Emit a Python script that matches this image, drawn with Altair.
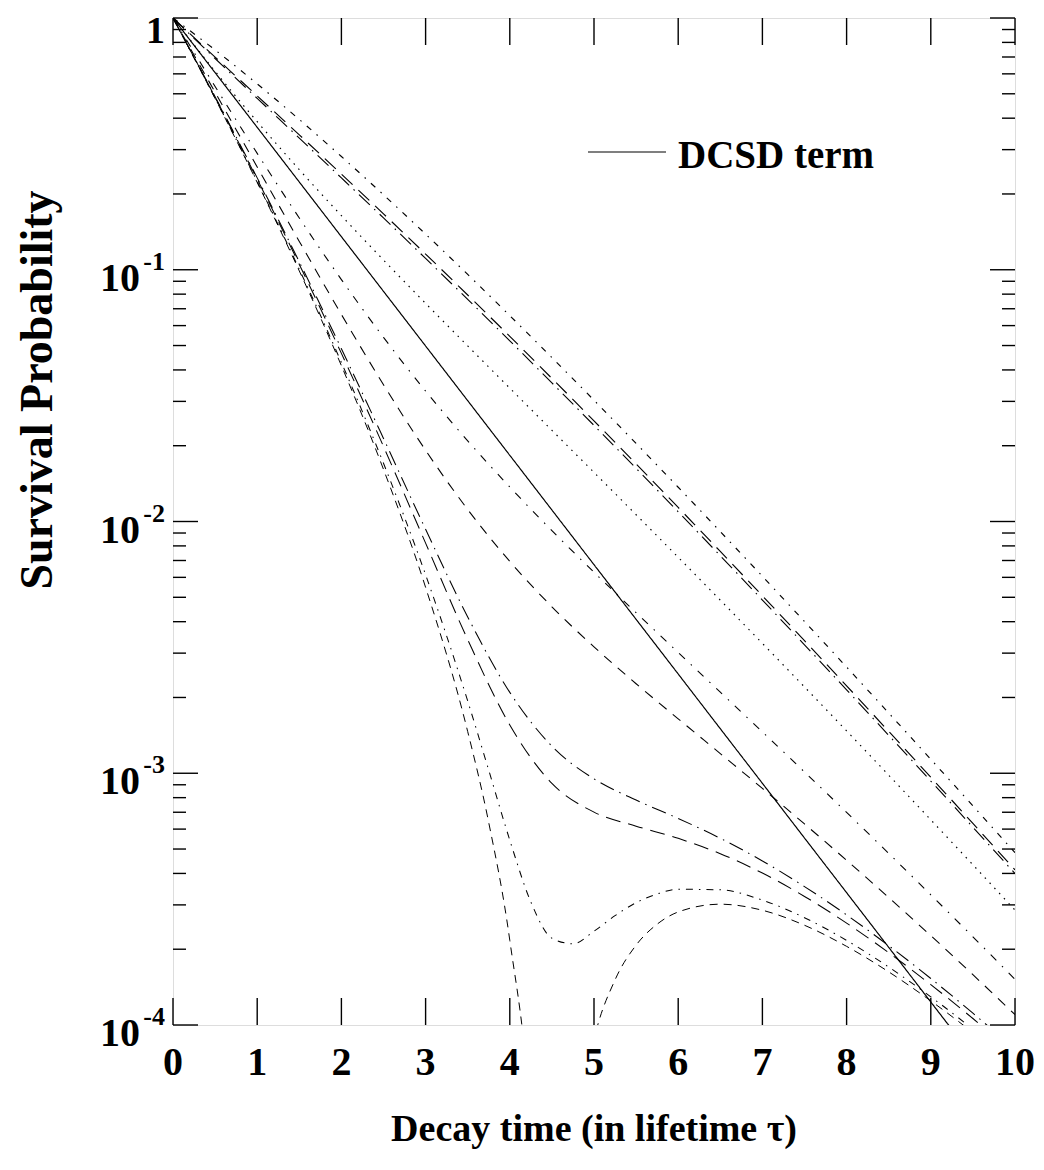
import altair as alt
import pandas as pd

# ---- data (survival probability vs decay time) ----
t_main = [0, 0.5, 1, 1.5, 2, 2.5, 3, 3.5, 4, 4.5, 5, 5.5, 6, 6.5, 7, 7.5, 8, 8.5, 9, 9.5, 10]

dcsd = [1, 0.6065, 0.3679, 0.2231, 0.1353, 0.08208, 0.04979, 0.03020, 0.01832, 0.01111,
        0.006738, 0.004087, 0.002479, 0.001503, 0.000912, 0.000553, 0.0003355, 0.0002035,
        0.0001234, 0.0000749, 0.0000454]
dotted = [1, 0.6145, 0.3874, 0.2497, 0.1640, 0.1093, 0.07354, 0.04981, 0.03386, 0.02303,
          0.01567, 0.01064, 0.007209, 0.004869, 0.003280, 0.002202, 0.001473, 0.0009826,
          0.0006532, 0.0004329, 0.000286]
up_dashdotdot = [1, 0.7465, 0.5474, 0.3953, 0.2817, 0.1985, 0.1385, 0.09579, 0.06573, 0.04478,
                 0.03032, 0.02042, 0.01368, 0.009118, 0.006058, 0.004006, 0.002641, 0.001735,
                 0.001136, 0.0007422, 0.0004835]
up_longdash = [1, 0.6994, 0.4904, 0.3434, 0.2398, 0.1667, 0.1154, 0.07940, 0.05437, 0.03703,
               0.02510, 0.01693, 0.01137, 0.007604, 0.005068, 0.003363, 0.002225, 0.001467,
               0.0009642, 0.000632, 0.0004131]
up_dashdot = [1, 0.6903, 0.4794, 0.3334, 0.2316, 0.1606, 0.1109, 0.07623, 0.05218, 0.03553,
              0.02409, 0.01626, 0.01093, 0.007311, 0.004876, 0.003238, 0.002144, 0.001415,
              0.0009309, 0.0006106, 0.0003995]
mid_dashdot = [1, 0.5348, 0.2900, 0.1605, 0.09141, 0.05389, 0.03297, 0.02092, 0.01370, 0.009200,
               0.006287, 0.004343, 0.003017, 0.002099, 0.001460, 0.001012, 0.0006988, 0.0004805,
               0.0003289, 0.0002240, 0.0001519]
mid_dash = [1, 0.5067, 0.2560, 0.1296, 0.06643, 0.03494, 0.01918, 0.01116, 0.006940, 0.004585,
            0.003177, 0.002268, 0.001645, 0.001197, 0.0008705, 0.0006289, 0.0004511, 0.0003209,
            0.0002264, 0.0001584, 0.0001100]
low_dashdot = [1, 0.4867, 0.2317, 0.1075, 0.04855, 0.02138, 0.009311, 0.004177, 0.002096, 0.001281,
               0.0009501, 0.0007827, 0.0006614, 0.0005515, 0.0004485, 0.0003547, 0.0002737,
               0.0002066, 0.0001530, 0.0001114, 0.0000800]
low_longdash = [1, 0.4845, 0.2290, 0.1050, 0.04654, 0.01986, 0.008205, 0.003394, 0.001554, 0.0009110,
                0.0007008, 0.0006163, 0.0005513, 0.0004792, 0.0004013, 0.0003241, 0.0002539,
                0.0001938, 0.0001447, 0.0001061, 0.0000766]

t_dip = [0, 0.5, 1, 1.5, 2, 2.5, 3, 3.5, 3.75, 4, 4.25, 4.5, 4.75, 5, 5.25, 5.5, 5.75, 6,
         6.5, 7, 7.5, 8, 8.5, 9, 9.5, 10]
low_dashdotdot = [1, 0.4803, 0.2239, 0.1004, 0.04281, 0.01703, 0.006144, 0.001936, 0.001028,
                  0.0005423, 0.0003081, 0.0002211, 0.0002102, 0.0002358, 0.0002718, 0.0003061,
                  0.0003313, 0.0003461, 0.0003443, 0.0003132, 0.0002668, 0.0002168, 0.0001699,
                  0.0001294, 0.0000963, 0.0000704]

t_zero = [0, 0.5, 1, 1.5, 2, 2.5, 3, 3.5, 3.75, 4, 4.25, 4.4, 4.6, 4.75, 5, 5.25, 5.5, 5.75, 6,
          6.5, 7, 7.5, 8, 8.5, 9, 9.5, 10]
low_dash = [1, 0.4789, 0.2222, 0.09890, 0.04159, 0.01611, 0.005475, 0.001464, 0.0006365,
            0.0002169, 0.00004022, 0.0000049, 0.0000062, 0.00002941, 0.0000876, 0.0001511,
            0.0002076, 0.0002515, 0.0002812, 0.0003019, 0.0002856, 0.000249, 0.0002053,
            0.0001626, 0.0001247, 0.0000933, 0.0000685]

curves = [
    ("DCSD term", t_main, dcsd, [1, 0], 1.2),
    ("dotted", t_main, dotted, [1.5, 5.5], 1.0),
    ("up_dashdotdot", t_main, up_dashdotdot, [6, 7, 1.5, 7], 1.0),
    ("up_longdash", t_main, up_longdash, [15, 8], 1.0),
    ("up_dashdot", t_main, up_dashdot, [15, 6, 1.5, 6], 1.0),
    ("mid_dashdot", t_main, mid_dashdot, [8, 8, 1.5, 8], 1.0),
    ("mid_dash", t_main, mid_dash, [10, 8], 1.0),
    ("low_dashdot", t_main, low_dashdot, [15, 6, 1.5, 6], 1.0),
    ("low_longdash", t_main, low_longdash, [15, 8], 1.0),
    ("low_dashdotdot", t_dip, low_dashdotdot, [7, 6, 1.5, 6], 1.0),
    ("low_dash", t_zero, low_dash, [8, 6], 1.0),
]

rows = []
for name, ts, ps, _, _ in curves:
    for t, p in zip(ts, ps):
        rows.append({"curve": name, "t": t, "p": p})
df = pd.DataFrame(rows)

names = [c[0] for c in curves]
dashes = [c[3] for c in curves]
widths = [c[4] for c in curves]

x_ticks = [0, 1, 2, 3, 4, 5, 6, 7, 8, 9, 10]
x_labels = ["0", "1", "2", "3", "4", "5", "6", "7", "8", "9", "10"]
y_major = [1, 0.1, 0.01, 0.001, 0.0001]
y_base = ["1", "10", "10", "10", "10"]
y_sup = ["", "-1", "-2", "-3", "-4"]
y_minor = [k * m for m in [0.1, 0.01, 0.001, 0.0001] for k in range(2, 10)]

W, H = 842, 1007
FONT = "Liberation Serif"

xs = alt.Scale(domain=[0, 10], nice=False, zero=False)
ys = alt.Scale(type="log", domain=[0.0001, 1], nice=False)

lines = alt.Chart(df).mark_line(clip=True, color="black", interpolate="monotone").encode(
    x=alt.X("t:Q", scale=xs, axis=None),
    y=alt.Y("p:Q", scale=ys, axis=None),
    detail="curve:N",
    order=alt.Order("t:Q"),
    strokeDash=alt.StrokeDash("curve:N", scale=alt.Scale(domain=names, range=dashes), legend=None),
    strokeWidth=alt.StrokeWidth("curve:N", scale=alt.Scale(domain=names, range=widths), legend=None),
)

TW = 1.4
xt = pd.DataFrame({"t": x_ticks, "label": x_labels})
x_tick_bot = alt.Chart(xt).mark_rule(color="black", strokeWidth=TW).encode(
    x="t:Q", y=alt.value(H), y2=alt.value(H - 27))
x_tick_top = alt.Chart(xt).mark_rule(color="black", strokeWidth=TW).encode(
    x="t:Q", y=alt.value(0), y2=alt.value(27))
x_lab = alt.Chart(xt).mark_text(font=FONT, fontWeight="bold", fontSize=40, baseline="middle",
                                align="center", color="black").encode(
    x="t:Q", y=alt.value(H + 38), text="label:N")

ymaj = pd.DataFrame({"p": y_major, "base": y_base, "sup": y_sup})
ymin = pd.DataFrame({"p": y_minor})
y_tick_l = alt.Chart(ymaj).mark_rule(color="black", strokeWidth=TW).encode(
    y="p:Q", x=alt.value(0), x2=alt.value(25))
y_tick_r = alt.Chart(ymaj).mark_rule(color="black", strokeWidth=TW).encode(
    y="p:Q", x=alt.value(W), x2=alt.value(W - 25))
y_mtick_l = alt.Chart(ymin).mark_rule(color="black", strokeWidth=TW).encode(
    y="p:Q", x=alt.value(0), x2=alt.value(13))
y_mtick_r = alt.Chart(ymin).mark_rule(color="black", strokeWidth=TW).encode(
    y="p:Q", x=alt.value(W), x2=alt.value(W - 13))

y_lab_base = alt.Chart(ymaj).transform_filter("datum.sup != ''").mark_text(
    font=FONT, fontWeight="bold", fontSize=40, baseline="middle", align="right",
    color="black", dy=9).encode(y="p:Q", x=alt.value(-33), text="base:N")
y_lab_1 = alt.Chart(ymaj).transform_filter("datum.sup == ''").mark_text(
    font=FONT, fontWeight="bold", fontSize=38, baseline="middle", align="right",
    color="black", dy=14).encode(y="p:Q", x=alt.value(-8), text="base:N")
y_lab_sup = alt.Chart(ymaj).transform_filter("datum.sup != ''").mark_text(
    font=FONT, fontWeight="bold", fontSize=26, baseline="middle", align="right",
    color="black", dy=-8).encode(y="p:Q", x=alt.value(-8), text="sup:N")

one = pd.DataFrame({"k": [0]})
x_title = alt.Chart(one).mark_text(font=FONT, fontWeight="bold", fontSize=38, baseline="middle",
                                   align="center", color="black").encode(
    x=alt.value(421), y=alt.value(1112), text=alt.value("Decay time (in lifetime τ)"))
y_title = alt.Chart(one).mark_text(font=FONT, fontWeight="bold", fontSize=46, baseline="middle",
                                   align="center", angle=270, color="black").encode(
    x=alt.value(-135), y=alt.value(372), text=alt.value("Survival Probability"))

leg_line = alt.Chart(one).mark_rule(color="black", strokeWidth=1.2).encode(
    x=alt.value(415), x2=alt.value(493), y=alt.value(134))
leg_text = alt.Chart(one).mark_text(font=FONT, fontWeight="bold", fontSize=39, baseline="middle",
                                    align="left", color="black").encode(
    x=alt.value(505), y=alt.value(138), text=alt.value("DCSD term"))

chart = alt.layer(
    lines, x_tick_bot, x_tick_top, x_lab, y_tick_l, y_tick_r, y_mtick_l, y_mtick_r,
    y_lab_base, y_lab_1, y_lab_sup, x_title, y_title, leg_line, leg_text
).properties(
    width=W, height=H,
    padding={"left": 165, "top": 10, "right": 20, "bottom": 128},
    autosize=alt.AutoSizeParams(type="none"),
).configure_view(stroke="black", strokeWidth=1.6).configure(background="white")

chart.save("out.html", embed_options={"renderer": "svg", "actions": False})
